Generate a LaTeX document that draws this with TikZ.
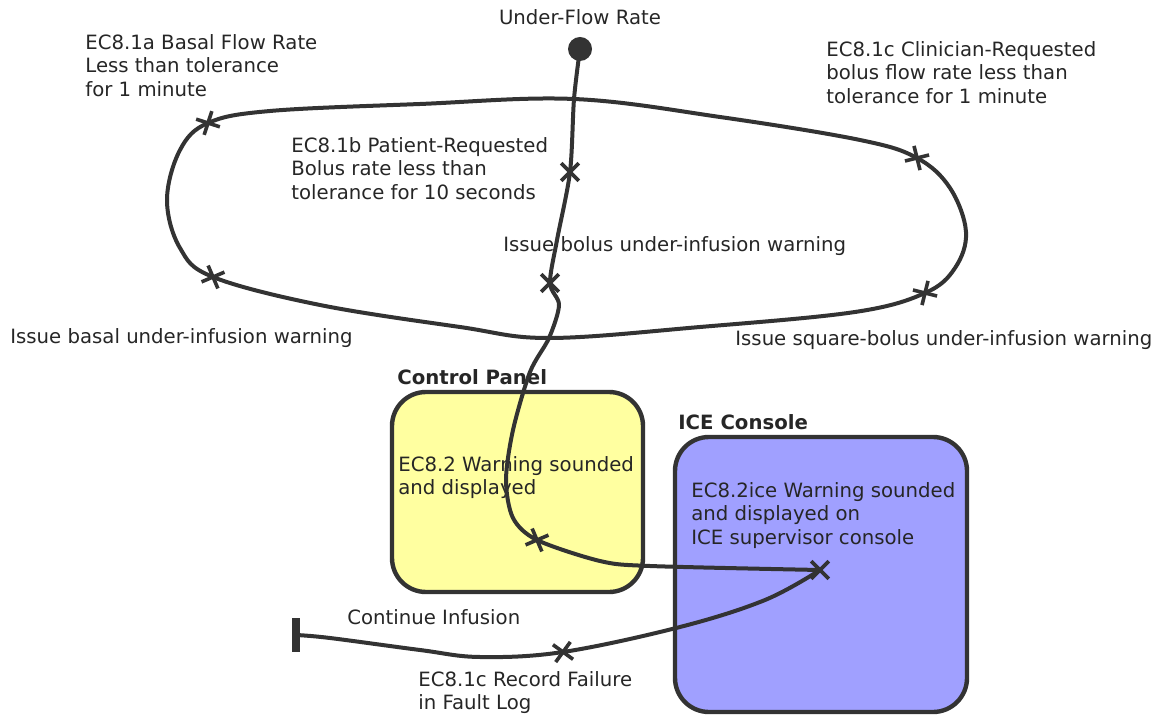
\documentclass[tikz,border=0pt]{standalone}
\usepackage{fontspec}
\setmainfont{DejaVu Sans}
\usetikzlibrary{shapes.misc}

\definecolor{ink}{HTML}{333333}
\definecolor{panelyellow}{HTML}{FFFFA0}
\definecolor{consoleblue}{HTML}{A0A0FF}

\begin{document}
\begin{tikzpicture}[x=0.5pt,y=-0.5pt,
	ucm/.style={draw=ink,line width=2pt,line join=round,line cap=round},
	resp/.style={cross out,draw=ink,line width=1.8pt,minimum size=7pt,inner sep=0pt},
	startpt/.style={circle,fill=ink,minimum size=12pt,inner sep=0pt},
	endbar/.style={rectangle,fill=ink,minimum width=4pt,minimum height=17pt,inner sep=0pt},
	comp/.style={draw=ink,line width=2.2pt,rounded corners=17pt,inner sep=0pt},
	lbl/.style={anchor=north west,align=left,inner sep=0pt,text=black!85,font=\fontsize{9.85}{11.75}\selectfont},
	comptitle/.style={lbl,font=\fontsize{9.85}{11.75}\selectfont\bfseries}]
	\useasboundingbox (0,0) rectangle (1160,715);

	\node[comp,fill=panelyellow,minimum width=125.5pt,minimum height=100pt] (cp) at (517.5,492) {};
	\node[comp,fill=consoleblue,minimum width=146pt,minimum height=137.5pt] (ice) at (821,574.5) {};

	\node[lbl,anchor=center] (under) at (580,17) {Under-Flow Rate};
	\node[lbl] (ec1a) at (85,34) {EC8.1a Basal Flow Rate\\Less than tolerance\\for 1 minute};
	\node[lbl] (ec1b) at (291,137) {EC8.1b Patient-Requested\\Bolus rate less than\\tolerance for 10 seconds};
	\node[lbl] (ec1c) at (826,41) {EC8.1c Clinician-Requested\\bolus flow rate less than\\tolerance for 1 minute};
	\node[lbl] (bolwarn) at (503,236) {Issue bolus under-infusion warning};
	\node[lbl] (baswarn) at (10,328) {Issue basal under-infusion warning};
	\node[lbl] (sqwarn) at (735,330) {Issue square-bolus under-infusion warning};
	\node[comptitle] (cptitle) at (397,369) {Control Panel};
	\node[comptitle] (icetitle) at (678,414) {ICE Console};
	\node[lbl] (cpwarn) at (398,456) {EC8.2 Warning sounded\\and displayed};
	\node[lbl] (icewarn) at (691,482) {EC8.2ice Warning sounded\\and displayed on\\ICE supervisor console};
	\node[lbl] (cont) at (347,609) {Continue Infusion};
	\node[lbl] (faultlog) at (418,671) {EC8.1c Record Failure\\in Fault Log};

	\node[startpt] (start) at (580,49) {};
	\node[endbar] (stop) at (296,635) {};
	\coordinate (fork) at (574,99);
	\coordinate (join) at (549,338);

	\node[resp] (r1) at (570,172) {};
	\node[resp] (r2) at (550,283) {};
	\node[resp,rotate=-22] (r3) at (537,540) {};
	\node[resp] (r4) at (820,570) {};
	\node[resp,rotate=9] (r5) at (563,652) {};
	\node[resp,rotate=27] (ra) at (208,123) {};
	\node[resp,rotate=-22] (rbas) at (213,277) {};
	\node[resp,rotate=-31] (rc) at (917,158) {};
	\node[resp,rotate=31] (rsq) at (925,293) {};

	\draw[ucm] plot[smooth cycle,tension=0.6] coordinates {(fork) (420,104) (270,111) (ra.center) (180,150) (167,200) (180,248) (rbas.center) (320,305) (460,327) (join) (700,327) (855,312) (rsq.center) (955,268) (966,232) (950,188) (rc.center) (860,140) (720,117)};
	\draw[ucm] plot[smooth] coordinates {(start.center) (fork) (r1.center) (557,240) (r2.center) (559,305) (join) (530,372) (513,430) (506,480) (513,518) (r3.center) (600,561) (650,566) (r4.center)};
	\draw[ucm] plot[smooth,tension=0.6] coordinates {(r4.center) (765,600) (680,627) (r5.center) (480,657) (420,650) (330,638) (stop.center)};
\end{tikzpicture}
\end{document}
